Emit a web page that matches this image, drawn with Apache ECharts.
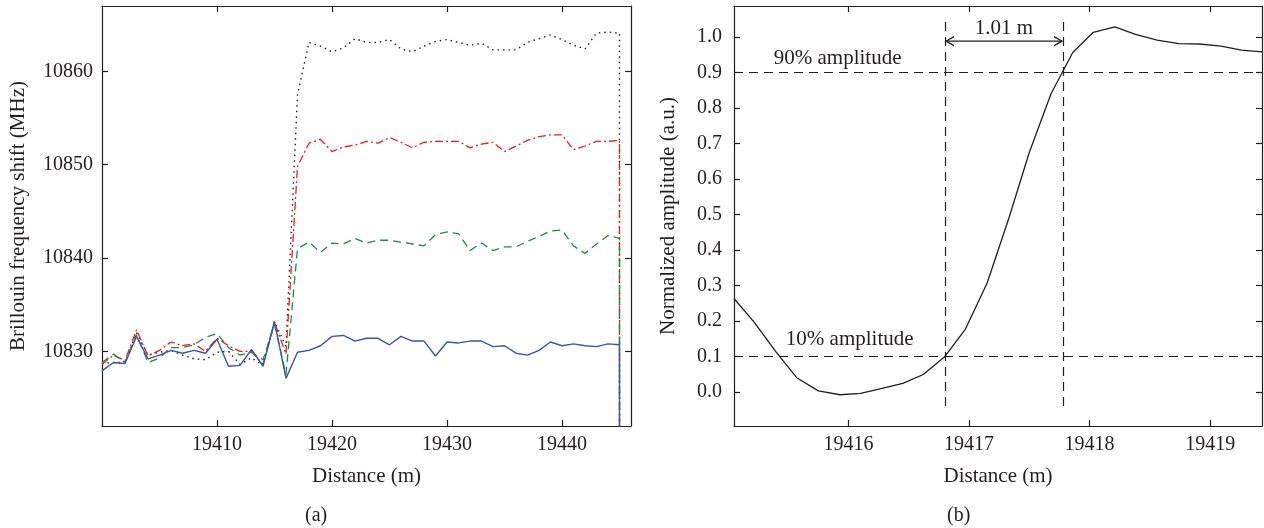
<!DOCTYPE html>
<html><head><meta charset="utf-8">
<script src="https://cdn.jsdelivr.net/npm/echarts@6/dist/echarts.min.js"></script>
<style>html,body{margin:0;padding:0;background:#fff}#c{width:1264px;height:528px}</style>
</head><body><div id="c"></div><script>
// ---------- Panel (a) data ----------
const distanceA = [19400,19401,19402,19403,19404,19405,19406,19407,19408,19409,19410,19411,19412,19413,19414,19415,19416,19417,19418,19419,19420,19421,19422,19423,19424,19425,19426,19427,19428,19429,19430,19431,19432,19433,19434,19435,19436,19437,19438,19439,19440,19441,19442,19443,19444,19445,19445];
const dottedBlack = [10828.7,10828.8,10828.8,10832.0,10829.6,10829.9,10830.1,10829.6,10829.2,10829.1,10829.9,10830.0,10828.6,10829.3,10828.5,10833.2,10830.5,10857.5,10863.1,10862.7,10862.1,10862.5,10863.5,10863.1,10863.1,10863.4,10862.4,10862.1,10862.7,10863.2,10863.4,10863.1,10862.8,10863.0,10862.3,10862.3,10862.3,10863.1,10863.5,10863.9,10863.4,10862.8,10862.4,10864.1,10864.2,10864.1,10815];
const dashDotRed = [10828.6,10829.6,10829.0,10832.3,10829.5,10830.1,10831.0,10830.6,10830.8,10830.0,10831.4,10830.6,10830.0,10830.0,10828.6,10833.1,10829.7,10849.8,10852.3,10852.7,10851.4,10851.9,10852.1,10852.5,10852.3,10852.9,10852.4,10851.8,10852.4,10852.5,10852.5,10852.5,10851.8,10852.2,10852.4,10851.4,10852.0,10852.6,10853.0,10853.2,10853.2,10851.6,10852.0,10852.5,10852.5,10852.6,10815];
const dashedGreen = [10828.8,10829.7,10828.8,10831.8,10828.8,10829.3,10830.4,10830.4,10830.7,10831.5,10831.9,10830.4,10829.6,10829.9,10829.1,10832.9,10827.5,10841.0,10841.7,10840.6,10841.6,10841.5,10842.1,10841.6,10841.9,10841.9,10841.7,10841.5,10841.3,10842.5,10842.8,10842.6,10840.8,10841.6,10840.8,10841.2,10841.2,10841.8,10842.3,10842.9,10843.0,10841.3,10840.5,10841.5,10842.4,10842.1,10815];
const solidBlue = [10827.9,10828.8,10828.7,10831.6,10829.2,10829.6,10830.1,10829.8,10830.1,10829.8,10831.3,10828.4,10828.5,10830.2,10828.4,10833.2,10827.1,10829.9,10830.1,10830.6,10831.6,10831.7,10831.1,10831.4,10831.4,10830.7,10831.6,10831.1,10831.1,10829.5,10831.0,10830.9,10831.1,10831.1,10830.5,10830.6,10829.8,10829.6,10830.1,10831.0,10830.6,10830.8,10830.6,10830.5,10830.8,10830.7,10815];
const xTicksA = [19410,19420,19430,19440];
const yTicksA = [10830,10840,10850,10860];

// ---------- Panel (b) data ----------
const distanceB = [19415.05,19415.22,19415.40,19415.57,19415.75,19415.93,19416.10,19416.27,19416.45,19416.62,19416.80,19416.97,19417.15,19417.33,19417.50,19417.68,19417.86,19418.03,19418.21,19418.38,19418.56,19418.74,19418.91,19419.09,19419.26,19419.43];
const amplitudeB = [0.263,0.195,0.112,0.040,0.003,-0.008,-0.004,0.009,0.024,0.049,0.100,0.177,0.307,0.489,0.675,0.840,0.956,1.013,1.028,1.007,0.991,0.981,0.980,0.974,0.963,0.958];
const xTicksB = [19416,19417,19418,19419];
const yTicksB = [0.0,0.1,0.2,0.3,0.4,0.5,0.6,0.7,0.8,0.9,1.0];
const thresholdLevels = [0.1, 0.9];
const edgeDistances = [19416.80, 19417.78];
const edgeSpan = [-0.04, 1.05];
const arrowLevel = 0.988;
const noteTexts = ['90% amplitude', '10% amplitude', '1.01 m'];
const noteDistances = [19415.38, 19415.48, 19417.29];
const noteAmplitudes = [0.94, 0.149, 1.023];

const FONT = 'Liberation Serif';
const TXT = '#231f20';
const chart = echarts.init(document.getElementById('c'), null, {renderer: 'canvas'});

function baseAxis(gridIndex, position, min, max, ticks, showLabel, extra) {
  return Object.assign({
    type: 'value', gridIndex, position, min, max, scale: true,
    axisLine: {show: true, onZero: false, lineStyle: {color: '#231f20', width: 1.2}},
    axisTick: {show: true, inside: true, length: 6, customValues: ticks, lineStyle: {color: '#231f20', width: 1.2}},
    axisLabel: {show: showLabel, customValues: ticks, color: TXT, fontFamily: FONT, fontSize: 20, margin: 9, formatter: v => String(v)},
    splitLine: {show: false}
  }, extra || {});
}

const nameStyle = {fontFamily: FONT, fontSize: 21, color: TXT};
const lineBase = {type: 'line', xAxisIndex: 0, yAxisIndex: 0, showSymbol: false, symbol: 'none', clip: true, animation: false};
const pairs = (xs, ys) => xs.map((x, i) => [x, ys[i]]);

const option = {
  animation: false,
  backgroundColor: '#fff',
  grid: [
    {left: 102, top: 6, width: 529, height: 420},
    {left: 734, top: 6, width: 528, height: 420}
  ],
  xAxis: [
    baseAxis(0, 'bottom', 19400, 19446, xTicksA, true, {name: 'Distance (m)', nameLocation: 'middle', nameGap: 40, nameTextStyle: nameStyle}),
    baseAxis(0, 'top', 19400, 19446, xTicksA, false),
    baseAxis(1, 'bottom', 19415.05, 19419.43, xTicksB, true, {name: 'Distance (m)', nameLocation: 'middle', nameGap: 40, nameTextStyle: nameStyle}),
    baseAxis(1, 'top', 19415.05, 19419.43, xTicksB, false)
  ],
  yAxis: [
    baseAxis(0, 'left', 10822, 10867, yTicksA, true, {name: 'Brillouin frequency shift (MHz)', nameLocation: 'middle', nameGap: 73, nameTextStyle: nameStyle}),
    baseAxis(0, 'right', 10822, 10867, yTicksA, false),
    baseAxis(1, 'left', -0.096, 1.087, yTicksB, true, {name: 'Normalized amplitude (a.u.)', nameLocation: 'middle', nameGap: 55, nameTextStyle: nameStyle, axisLabel: {show: true, customValues: yTicksB, color: TXT, fontFamily: FONT, fontSize: 20, margin: 12, formatter: v => v.toFixed(1)}}),
    baseAxis(1, 'right', -0.096, 1.087, yTicksB, false)
  ],
  graphic: [
    {type: 'text', left: 305, top: 506, style: {text: '(a)', font: '20px "Liberation Serif"', fill: TXT}},
    {type: 'text', left: 947, top: 506, style: {text: '(b)', font: '20px "Liberation Serif"', fill: TXT}}
  ],
  series: [
    Object.assign({}, lineBase, {name: 'black', data: pairs(distanceA, dottedBlack), lineStyle: {color: '#222', width: 1.4, type: [1.5, 4]}}),
    Object.assign({}, lineBase, {name: 'red', data: pairs(distanceA, dashDotRed), lineStyle: {color: '#ec1c24', width: 1.3, type: [8, 3, 2, 3]}}),
    Object.assign({}, lineBase, {name: 'green', data: pairs(distanceA, dashedGreen), lineStyle: {color: '#1e8c45', width: 1.3, type: [8, 5]}}),
    Object.assign({}, lineBase, {name: 'blue', data: pairs(distanceA, solidBlue), lineStyle: {color: '#3b56a6', width: 1.4}}),
    {
      type: 'line', xAxisIndex: 2, yAxisIndex: 2, showSymbol: false, symbol: 'none', clip: true,
      data: pairs(distanceB, amplitudeB), lineStyle: {color: '#231f20', width: 1.3},
      markLine: {
        silent: true, symbol: ['none', 'none'], animation: false, label: {show: false},
        lineStyle: {color: '#231f20', width: 1.2, type: [9, 6]},
        data: thresholdLevels.map(v => ({yAxis: v}))
          .concat(edgeDistances.map(x => [{coord: [x, edgeSpan[0]]}, {coord: [x, edgeSpan[1]]}]))
      }
    },
    {
      type: 'custom', xAxisIndex: 2, yAxisIndex: 2, silent: true,
      data: [[edgeDistances[0], edgeDistances[1], arrowLevel]],
      renderItem: (params, api) => {
        const a = api.coord([api.value(0), api.value(2)]);
        const b = api.coord([api.value(1), api.value(2)]);
        const st = {stroke: '#231f20', lineWidth: 1.2, fill: null};
        return {type: 'group', children: [
          {type: 'line', shape: {x1: a[0] + 1, y1: a[1], x2: b[0] - 1, y2: b[1]}, style: st},
          {type: 'polyline', shape: {points: [[a[0] + 9, a[1] - 4.5], [a[0] + 1, a[1]], [a[0] + 9, a[1] + 4.5]]}, style: st},
          {type: 'polyline', shape: {points: [[b[0] - 9, b[1] - 4.5], [b[0] - 1, b[1]], [b[0] - 9, b[1] + 4.5]]}, style: st}
        ]};
      }
    },
    {
      type: 'custom', xAxisIndex: 2, yAxisIndex: 2, silent: true,
      data: noteDistances.map((x, i) => [x, noteAmplitudes[i]]),
      renderItem: (params, api) => {
        const p = api.coord([api.value(0), api.value(1)]);
        const i = params.dataIndex;
        return {type: 'text', x: p[0], y: p[1], style: {
          text: noteTexts[i], font: '21px "Liberation Serif"', fill: TXT,
          align: i === 2 ? 'center' : 'left', verticalAlign: 'middle'}};
      }
    }
  ]
};
chart.setOption(option);
</script></body></html>
